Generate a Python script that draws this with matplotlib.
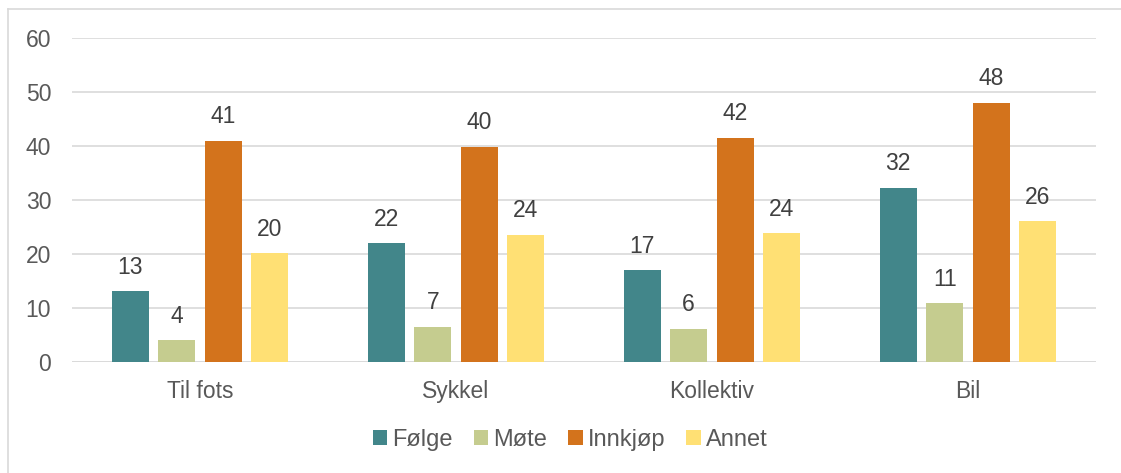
import matplotlib
matplotlib.use("Agg")
import matplotlib.pyplot as plt
from matplotlib.lines import Line2D
import numpy as np

plt.rcParams['font.family'] = ['Liberation Sans', 'DejaVu Sans']

categories = ["Til fots", "Sykkel", "Kollektiv", "Bil"]
series_names = ["Følge", "Møte", "Innkjøp", "Annet"]
folge = [13.2, 22.0, 17.0, 32.3]
mote = [4.1, 6.6, 6.2, 10.9]
innkjop = [41.0, 39.9, 41.6, 48.1]
annet = [20.2, 23.6, 23.9, 26.1]
colors = ["#42868a", "#c5cc8f", "#d3731c", "#ffe074"]

W, H = 1121, 473
fig = plt.figure(figsize=(W / 100, H / 100), dpi=100)
ax = fig.add_axes([72 / W, 1 - 362.3 / H, (1096 - 72) / W, (362.3 - 38.3) / H])

# outer frame (only top and left edges visible in the reference)
fig.lines.append(Line2D([7.5 / W, 1.0], [1 - 9.5 / H, 1 - 9.5 / H],
                        transform=fig.transFigure, color="#d9d9d9", linewidth=1.2))
fig.lines.append(Line2D([7.5 / W, 7.5 / W], [0.0, 1 - 9.5 / H],
                        transform=fig.transFigure, color="#d9d9d9", linewidth=1.2))

FS = 16.5
x = np.arange(len(categories))
step = 0.182
width = 0.145
all_series = [folge, mote, innkjop, annet]
for i, (vals, name, c) in enumerate(zip(all_series, series_names, colors)):
    pos = x + (i - 1.5) * step
    bars = ax.bar(pos, vals, width, color=c, label=name, zorder=3)
    for b, v in zip(bars, vals):
        ax.annotate(f"{v:.0f}", (b.get_x() + b.get_width() / 2, v),
                    xytext=(0, 9), textcoords="offset points",
                    ha="center", va="bottom", fontsize=FS, color="#404040")

ax.set_xlim(-0.5, 3.5)
ax.set_ylim(0, 60)
ax.set_yticks(range(0, 61, 10))
ax.yaxis.grid(True, color="#d9d9d9", linewidth=1.2, zorder=0)
ax.set_axisbelow(True)
for s in ax.spines.values():
    s.set_visible(False)
ax.axhline(0, color="#d9d9d9", linewidth=1.2, zorder=1)
ax.set_xticks(x)
ax.set_xticklabels(categories)
ax.tick_params(axis="both", length=0, labelsize=FS, colors="#595959")
ax.tick_params(axis="y", pad=15)
ax.tick_params(axis="x", pad=13)

leg = fig.legend(loc="center", bbox_to_anchor=(570 / W, 1 - 440 / H), ncol=4,
                 frameon=False, fontsize=17, handlelength=0.62, handleheight=0.62,
                 handletextpad=0.2, columnspacing=0.9, labelcolor="#595959")

fig.savefig("out.png", dpi=100)
